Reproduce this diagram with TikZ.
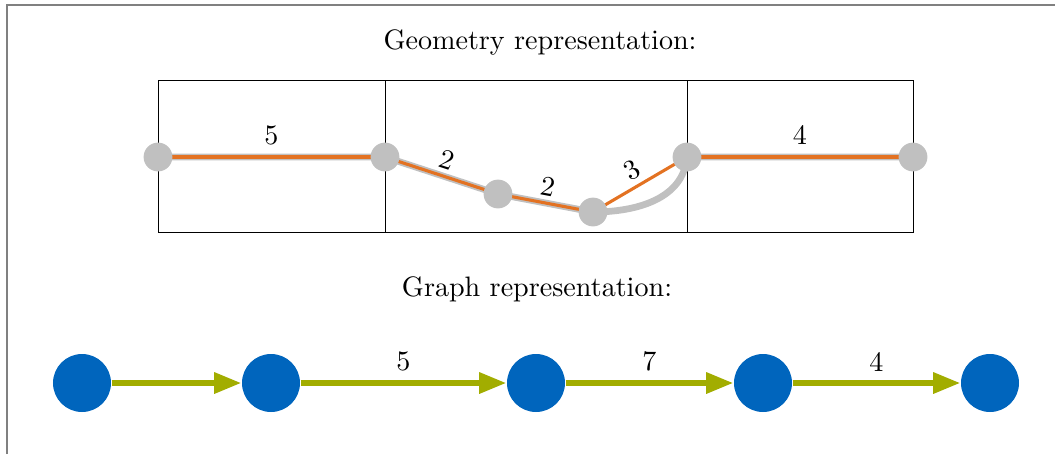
\documentclass[tikz,border=0pt]{standalone}
\usepackage{xcolor}
\usepackage{tikz}
\usetikzlibrary{arrows.meta,positioning,calc}
\definecolor{tumblue}{HTML}{0065BD}
\definecolor{tumgreen}{HTML}{A2AD00}
\definecolor{tumorange}{HTML}{E37222}
\definecolor{tumgray}{HTML}{C0C0C0}
\tikzset{
  geonode/.style={circle, fill=tumgray, inner sep=0pt, minimum size=3.6mm},
  graphnode/.style={circle, fill=tumblue, inner sep=0pt, minimum size=7.25mm},
  geopath/.style={draw=tumgray, line width=2.4pt},
  roadline/.style={draw=tumorange, line width=1.1pt},
  edgearrow/.style={-{Triangle[length=3.4mm,width=2.5mm]}, draw=tumgreen, line width=2.1pt},
  celltitle/.style={font=\normalsize, inner sep=1pt},
  weight/.style={font=\normalsize, inner sep=2pt}
}
\begin{document}
\begin{tikzpicture}
    \useasboundingbox (0,0) rectangle (13.2375,5.675);
    % frame
    \draw[gray, line width=0.6pt] (0.0875,0) -- (0.0875,5.6125) -- (13.1875,5.6125);

    % geometry
    \node[celltitle] (geotitle) at (6.75,5.15) {Geometry representation:};
    \draw[line width=0.35pt] (1.975,2.775) rectangle (4.8125,4.675);
    \draw[line width=0.35pt] (4.8125,2.775) rectangle (8.5875,4.675);
    \draw[line width=0.35pt] (8.5875,2.775) rectangle (11.4125,4.675);

    \coordinate (g1) at (1.975,3.7125);
    \coordinate (g2) at (4.8125,3.7125);
    \coordinate (g3) at (6.225,3.25);
    \coordinate (g4) at (7.4125,3.025);
    \coordinate (g5) at (8.5875,3.7125);
    \coordinate (g6) at (11.4125,3.7125);

    \draw[geopath] (g1) -- (g2) -- (g3) -- (g4) to[out=0,in=-95] (g5) -- (g6);
    \draw[roadline] (g1) -- node[weight, above=1.8pt] {5} (g2);
    \draw[roadline] (g2) -- node[weight, above, sloped] {2} (g3);
    \draw[roadline] (g3) -- node[weight, above, sloped] {2} (g4);
    \draw[roadline] (g4) -- node[weight, above, sloped] {3} (g5);
    \draw[roadline] (g5) -- node[weight, above=1.8pt] {4} (g6);

    \foreach \p in {g1,g2,g3,g4,g5,g6}
        \node[geonode] at (\p) {};

    % graph
    \node[celltitle] (graphtitle) at (6.7125,2.0625) {Graph representation:};
    \node[graphnode] (v1) at (1.025,0.8875) {};
    \node[graphnode] (v2) at (3.3875,0.8875) {};
    \node[graphnode] (v3) at (6.7,0.8875) {};
    \node[graphnode] (v4) at (9.5375,0.8875) {};
    \node[graphnode] (v5) at (12.375,0.8875) {};

    \draw[edgearrow] (v1) -- (v2);
    \draw[edgearrow] (v2) -- node[weight, above=1pt] {5} (v3);
    \draw[edgearrow] (v3) -- node[weight, above=1pt] {7} (v4);
    \draw[edgearrow] (v4) -- node[weight, above=1pt] {4} (v5);
\end{tikzpicture}
\end{document}
